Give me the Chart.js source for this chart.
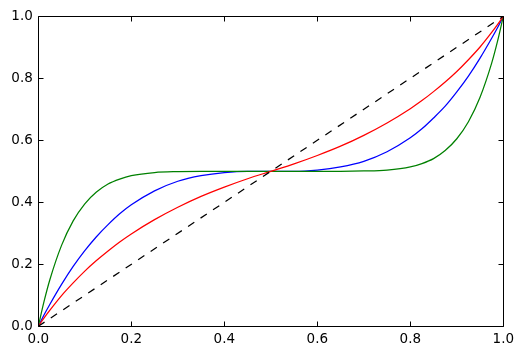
<!DOCTYPE html>
<html>
<head>
<meta charset="utf-8">
<script src="https://cdn.jsdelivr.net/npm/chart.js@4/dist/chart.umd.min.js"></script>
<style>
  html, body { margin: 0; padding: 0; background: #ffffff; }
  #c { display: block; }
</style>
</head>
<body>
<canvas id="c" width="523" height="356"></canvas>
<script>
// ---- data ----
const xValues = [0, 0.0125, 0.025, 0.05, 0.075, 0.1, 0.125, 0.15, 0.175, 0.2, 0.25, 0.3, 0.35, 0.4, 0.45, 0.5,
                 0.55, 0.6, 0.65, 0.7, 0.75, 0.8, 0.825, 0.85, 0.875, 0.9, 0.925, 0.95, 0.975, 0.9875, 1];
const greenValues = [0, 0.081, 0.151, 0.261, 0.340, 0.395, 0.433, 0.459, 0.475, 0.486, 0.496, 0.499, 0.500, 0.500, 0.500, 0.500,
                     0.500, 0.500, 0.500, 0.501, 0.504, 0.514, 0.525, 0.541, 0.567, 0.605, 0.660, 0.739, 0.849, 0.919, 1];
const blueValues = [0, 0.037, 0.071, 0.135, 0.193, 0.244, 0.289, 0.328, 0.363, 0.392, 0.437, 0.468, 0.486, 0.496, 0.500, 0.500,
                    0.500, 0.504, 0.514, 0.532, 0.563, 0.608, 0.637, 0.672, 0.710, 0.756, 0.807, 0.865, 0.929, 0.963, 1];
const redValues = [0, 0.027, 0.052, 0.099, 0.140, 0.178, 0.212, 0.243, 0.272, 0.298, 0.344, 0.384, 0.419, 0.449, 0.476, 0.500,
                   0.524, 0.551, 0.581, 0.616, 0.656, 0.702, 0.728, 0.757, 0.788, 0.822, 0.860, 0.901, 0.948, 0.973, 1];
const diagX = [0, 1];
const diagY = [0, 1];
const xTickValues = [0, 0.2, 0.4, 0.6, 0.8, 1.0];
const yTickValues = [0, 0.2, 0.4, 0.6, 0.8, 1.0];

const toPoints = (xs, ys) => xs.map((x, i) => ({ x: x, y: ys[i] }));

const FONT = { family: "'DejaVu Sans', sans-serif", size: 13.5 };

const frame = {
  id: 'frame',
  afterDatasetsDraw(chart) {
    const { ctx, chartArea: a, scales } = chart;
    const L = Math.floor(a.left) + 0.5, R = Math.floor(a.right) + 0.5;
    const T = Math.floor(a.top) + 0.5, B = Math.floor(a.bottom) + 0.5;
    const len = 5;
    ctx.save();
    ctx.strokeStyle = '#000000';
    ctx.lineWidth = 1;
    ctx.beginPath();
    ctx.rect(L, T, R - L, B - T);
    xTickValues.forEach(v => {
      const p = Math.floor(scales.x.getPixelForValue(v)) + 0.5;
      ctx.moveTo(p, B); ctx.lineTo(p, B - len);
      ctx.moveTo(p, T); ctx.lineTo(p, T + len);
    });
    yTickValues.forEach(v => {
      const p = Math.floor(scales.y.getPixelForValue(v)) + 0.5;
      ctx.moveTo(L, p); ctx.lineTo(L + len, p);
      ctx.moveTo(R, p); ctx.lineTo(R - len, p);
    });
    ctx.stroke();
    ctx.restore();
  }
};

const lineDefaults = { pointRadius: 0, borderWidth: 1.25, fill: false, cubicInterpolationMode: 'monotone' };

new Chart(document.getElementById('c'), {
  type: 'line',
  data: {
    datasets: [
      Object.assign({ data: toPoints(diagX, diagY), borderColor: '#000000', borderDash: [7.5, 7.5], order: 0 }, lineDefaults, { cubicInterpolationMode: 'default', tension: 0 }),
      Object.assign({ data: toPoints(xValues, redValues), borderColor: '#ff0000', order: 1 }, lineDefaults),
      Object.assign({ data: toPoints(xValues, greenValues), borderColor: '#008000', order: 2 }, lineDefaults),
      Object.assign({ data: toPoints(xValues, blueValues), borderColor: '#0000ff', order: 3 }, lineDefaults)
    ]
  },
  options: {
    responsive: false,
    animation: false,
    devicePixelRatio: 1,
    layout: { padding: { left: 0, top: 16.3, right: 19.7, bottom: 0 } },
    plugins: { legend: { display: false }, tooltip: { enabled: false } },
    scales: {
      x: {
        type: 'linear', min: 0, max: 1,
        grid: { display: false, drawTicks: false },
        border: { display: false },
        afterBuildTicks: s => { s.ticks = xTickValues.map(v => ({ value: v })); },
        ticks: { color: '#000000', font: FONT, padding: 5.5, maxRotation: 0, callback: v => Number(v).toFixed(1) },
        afterFit: s => { s.height = 29.7; }
      },
      y: {
        type: 'linear', min: 0, max: 1,
        grid: { display: false, drawTicks: false },
        border: { display: false },
        afterBuildTicks: s => { s.ticks = yTickValues.map(v => ({ value: v })); },
        ticks: { color: '#000000', font: FONT, padding: 5.5, callback: v => Number(v).toFixed(1) },
        afterFit: s => { s.width = 38.3; }
      }
    }
  },
  plugins: [frame]
});
</script>
</body>
</html>
